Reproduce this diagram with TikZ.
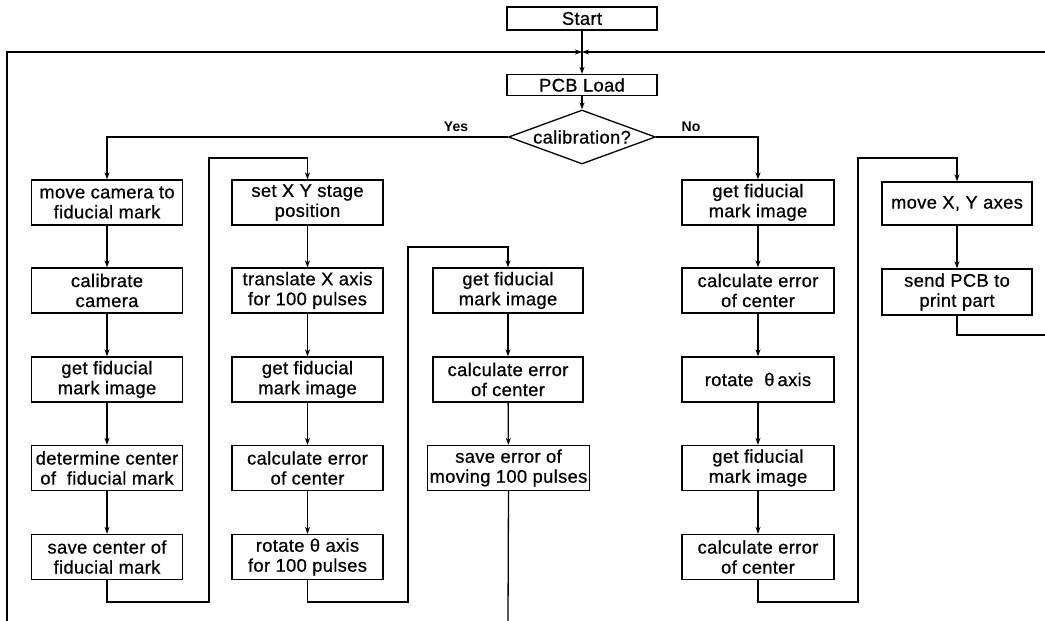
\documentclass[tikz,border=0pt]{standalone}
\usepackage{fontspec}
\setmainfont{Liberation Sans}
\newfontfamily\boxfont{Liberation Sans}[FakeBold=0.7, LetterSpace=2]
\usetikzlibrary{arrows.meta,shapes.geometric}
\begin{document}
\begin{tikzpicture}[x=1pt,y=-1pt,
  line width=1.3pt,
  flow/.style={-{Stealth[length=7pt,width=5pt]}},
  box/.style={draw, rectangle, line width=1.3pt, inner sep=0pt, align=center,
    font=\boxfont\fontsize{18.3}{20}\selectfont, minimum height=45pt, minimum width=151pt},
  thin box/.style={box, minimum height=22pt},
  decision/.style={draw, diamond, line width=1.3pt, inner sep=0pt, shape aspect=2.7,
    minimum width=147pt, minimum height=54pt, font=\boxfont\fontsize{18.3}{20}\selectfont},
  lbl/.style={font=\fontsize{14}{14}\bfseries\selectfont, inner sep=0pt}
]
\useasboundingbox (0,0) rectangle (1045,621);

% top
\node[thin box, minimum width=150pt, minimum height=23pt] (start) at (582,18.5) {Start};
\node[thin box, minimum width=150pt, minimum height=21pt] (pcb) at (582,85) {PCB Load};
\node[decision] (cal) at (582,137) {calibration?};
\coordinate (J) at (582,52);
\coordinate (BL) at (7,621);
\coordinate (TR) at (1045,52);

% column 1
\node[box] (a1) at (107,202.5) {move camera to\\fiducial mark};
\node[box] (a2) at (107,290.5) {calibrate\\camera};
\node[box] (a3) at (107,379.5) {get fiducial\\mark image};
\node[box] (a4) at (107,468) {determine center\\of~~fiducial mark};
\node[box] (a5) at (107,557) {save center of\\fiducial mark};

% column 2
\node[box] (b1) at (307.5,202.5) {set X Y stage\\position};
\node[box] (b2) at (307.5,290.5) {translate X axis\\for 100 pulses};
\node[box] (b3) at (307.5,379.5) {get fiducial\\mark image};
\node[box] (b4) at (307.5,468) {calculate error\\of center};
\node[box] (b5) at (307.5,557) {rotate θ axis\\for 100 pulses};

% column 3
\node[box, minimum width=150pt] (c2) at (508,290.5) {get fiducial\\mark image};
\node[box, minimum width=150pt] (c3) at (508,379.5) {calculate error\\of center};
\node[box, minimum width=162pt] (c4) at (508.5,468) {save error of\\moving 100 pulses};
\coordinate (CB) at (508,621);

% column 4
\node[box, minimum width=152pt] (d1) at (758,202.5) {get fiducial\\mark image};
\node[box, minimum width=152pt] (d2) at (758,290.5) {calculate error\\of center};
\node[box, minimum width=152pt] (d3) at (758,379.5) {rotate ~θ\,axis};
\node[box, minimum width=152pt] (d4) at (758,468) {get fiducial\\mark image};
\node[box, minimum width=152pt] (d5) at (758,557) {calculate error\\of center};

% column 5
\node[box, minimum width=150pt, minimum height=43pt] (e1) at (957,203.5) {move X, Y axes};
\node[box, minimum width=150pt, minimum height=46pt] (e2) at (957,292) {send PCB to\\print part};
\coordinate (ER) at (1045,335);

% labels
\node[lbl] (yes) at (456,127) {Yes};
\node[lbl] (no) at (691,127) {No};

% main connectors
\draw[flow] (start) -- (pcb);
\draw[flow] (pcb) -- (cal);
\draw[flow] (BL) |- (J);
\draw[flow] (TR) -- (J);
\draw[flow] (cal.west) -| (a1.north);
\draw[flow] (cal.east) -| (d1.north);

% column chains
\draw[flow] (a1) -- (a2);
\draw[flow] (a2) -- (a3);
\draw[flow] (a3) -- (a4);
\draw[flow] (a4) -- (a5);
\draw[flow] (b1) -- (b2);
\draw[flow] (b2) -- (b3);
\draw[flow] (b3) -- (b4);
\draw[flow] (b4) -- (b5);
\draw[flow] (c2) -- (c3);
\draw[flow] (c3) -- (c4);
\draw (c4.south) -- (CB);
\draw[flow] (d1) -- (d2);
\draw[flow] (d2) -- (d3);
\draw[flow] (d3) -- (d4);
\draw[flow] (d4) -- (d5);
\draw[flow] (e1) -- (e2);

% loops
\draw[flow] (a5.south) |- (209,602) -- (209,158) -| (b1.north);
\draw[flow] (b5.south) |- (408,602) -- (408,247) -| (c2.north);
\draw[flow] (d5.south) |- (858,602) -- (858,158) -| (e1.north);
\draw (e2.south) |- (ER);
\end{tikzpicture}
\end{document}
